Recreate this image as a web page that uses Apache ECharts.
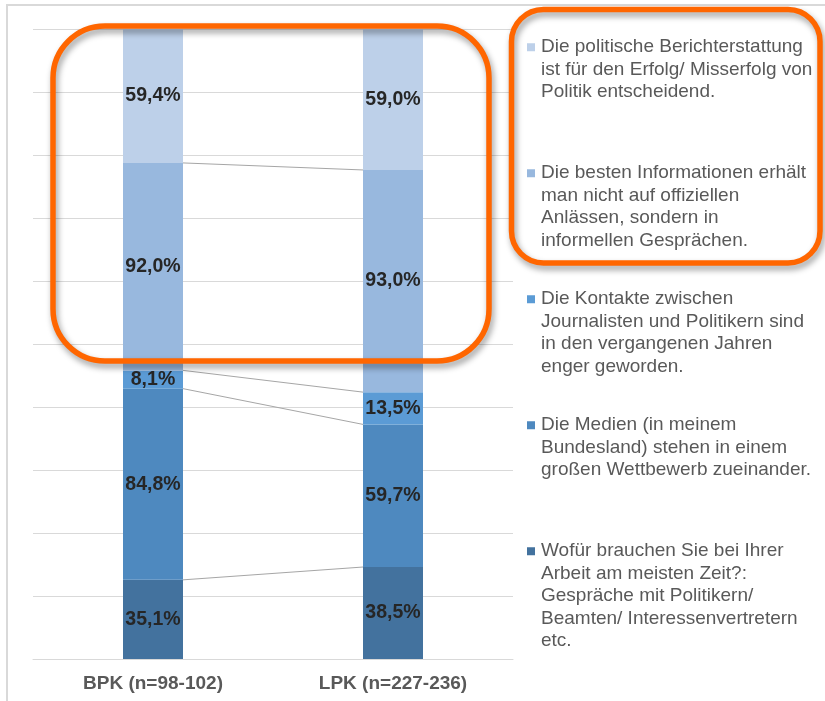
<!DOCTYPE html>
<html><head><meta charset="utf-8">
<script src="https://cdn.jsdelivr.net/npm/echarts@6/dist/echarts.min.js"></script>
<style>html,body{margin:0;padding:0;background:#fff}#c{width:825px;height:701px}</style>
</head><body><div id="c"></div>
<script>
const categories = ['BPK (n=98-102)', 'LPK (n=227-236)'];

const seriesNames = [
  'Wofür brauchen Sie bei Ihrer Arbeit am meisten Zeit?: Gespräche mit Politikern/ Beamten/ Interessenvertretern etc.',
  'Die Medien (in meinem Bundesland) stehen in einem großen Wettbewerb zueinander.',
  'Die Kontakte zwischen Journalisten und Politikern sind in den vergangenen Jahren enger geworden.',
  'Die besten Informationen erhält man nicht auf offiziellen Anlässen, sondern in informellen Gesprächen.',
  'Die politische Berichterstattung ist für den Erfolg/ Misserfolg von Politik entscheidend.'
];

const legendLines = [
  ['Wofür brauchen Sie bei Ihrer', 'Arbeit am meisten Zeit?:', 'Gespräche mit Politikern/', 'Beamten/ Interessenvertretern', 'etc.'],
  ['Die Medien (in meinem', 'Bundesland) stehen in einem', 'großen Wettbewerb zueinander.'],
  ['Die Kontakte zwischen', 'Journalisten und Politikern sind', 'in den vergangenen Jahren', 'enger geworden.'],
  ['Die besten Informationen erhält', 'man nicht auf offiziellen', 'Anlässen, sondern in', 'informellen Gesprächen.'],
  ['Die politische Berichterstattung', 'ist für den Erfolg/ Misserfolg von', 'Politik entscheidend.']
];

const sZeit = [35.1, 38.5];
const sMedien = [84.8, 59.7];
const sKontakte = [8.1, 13.5];
const sInfo = [92.0, 93.0];
const sBericht = [59.4, 59.0];

const colors = ['#43729e', '#4e89bf', '#5b9bd5', '#98b8de', '#bdd0e9'];

const raw = [sZeit, sMedien, sKontakte, sInfo, sBericht];
const totals = categories.map((c, j) => raw.reduce((a, s) => a + s[j], 0));
const pct = raw.map(s => s.map((v, j) => v / totals[j] * 100));

const boundaries = [];
for (let k = 1; k < raw.length; k++) {
  let a = 0, b = 0;
  for (let i = 0; i < k; i++) { a += pct[i][0]; b += pct[i][1]; }
  boundaries.push([0, a, b]);
}

const FONT = 'Liberation Sans, Arial, sans-serif';

const rich = {
  gap: { width: 6 },
  ind: { width: 14 },
  t: { fontFamily: FONT, fontSize: 19, color: '#595959', lineHeight: 22.5 }
};
colors.forEach((c, i) => { rich['sq' + i] = { width: 8, height: 8, backgroundColor: c }; });

const chart = echarts.init(document.getElementById('c'), null, { renderer: 'canvas' });

const series = raw.map((s, i) => ({
  name: seriesNames[i],
  type: 'bar',
  stack: 'total',
  barWidth: '25%',
  data: pct[i],
  itemStyle: { color: colors[i] },
  label: {
    show: true,
    position: 'inside',
    fontFamily: FONT,
    fontSize: 19.5,
    fontWeight: 'bold',
    color: '#262626',
    formatter: p => raw[i][p.dataIndex].toFixed(1).replace('.', ',') + '%'
  }
}));

series.push({
  type: 'custom',
  silent: true,
  z: 1,
  encode: { x: 0, y: 1 },
  data: boundaries,
  renderItem: function (params, api) {
    const p0 = api.coord([0, api.value(1)]);
    const p1 = api.coord([1, api.value(2)]);
    const half = api.size([1, 0])[0] * 0.125;
    return {
      type: 'line',
      shape: { x1: p0[0] + half, y1: p0[1], x2: p1[0] - half, y2: p1[1] },
      style: { stroke: '#a6a6a6', lineWidth: 1 }
    };
  }
});

chart.setOption({
  animation: false,
  backgroundColor: '#ffffff',
  grid: { left: 33, right: 312, top: 29, bottom: 42, containLabel: false, outerBoundsMode: 'none' },
  xAxis: {
    type: 'category',
    data: categories,
    axisLine: { show: true, lineStyle: { color: '#d9d9d9', width: 1 } },
    axisTick: { show: false },
    axisLabel: { fontFamily: FONT, fontSize: 19, fontWeight: 'bold', color: '#595959', margin: 15 }
  },
  yAxis: {
    type: 'value',
    min: 0, max: 100, interval: 10,
    axisLabel: { show: false },
    axisLine: { show: false },
    axisTick: { show: false },
    splitLine: { lineStyle: { color: '#d9d9d9', width: 1 } }
  },
  legend: {
    orient: 'vertical',
    left: 521,
    top: 36,
    padding: 0,
    itemGap: 13.5,
    itemWidth: 1,
    itemHeight: 1,
    itemStyle: { color: 'rgba(0,0,0,0)', borderWidth: 0 },
    selectedMode: false,
    data: [4, 3, 2, 1, 0].map(i => seriesNames[i]),
    formatter: function (name) {
      const i = seriesNames.indexOf(name);
      const lines = legendLines[i];
      let s = '{sq' + i + '|}{gap|}{t|' + lines[0] + '}';
      for (let k = 1; k < 5; k++) {
        s += '\n{ind|}{t|' + (k < lines.length ? lines[k] : ' ') + '}';
      }
      return s;
    },
    textStyle: { fontFamily: FONT, fontSize: 19, color: '#595959', lineHeight: 22.5, rich: rich }
  },
  graphic: [
    {
      type: 'rect', z: 0, silent: true,
      shape: { x: 7, y: 5, width: 840, height: 720 },
      style: { fill: 'none', stroke: '#d9d9d9', lineWidth: 2 }
    },
    {
      type: 'rect', z: 100, silent: true,
      shape: { x: 53, y: 26, width: 436, height: 335, r: 52 },
      style: { fill: 'none', stroke: '#ff6600', lineWidth: 5.5, shadowBlur: 6, shadowOffsetX: 2, shadowOffsetY: 4, shadowColor: 'rgba(0,0,0,0.4)' }
    },
    {
      type: 'rect', z: 100, silent: true,
      shape: { x: 511.5, y: 9.5, width: 308.5, height: 253.5, r: 32 },
      style: { fill: 'none', stroke: '#ff6600', lineWidth: 5.5, shadowBlur: 6, shadowOffsetX: 2, shadowOffsetY: 4, shadowColor: 'rgba(0,0,0,0.4)' }
    }
  ],
  series: series
});
</script>
</body></html>
